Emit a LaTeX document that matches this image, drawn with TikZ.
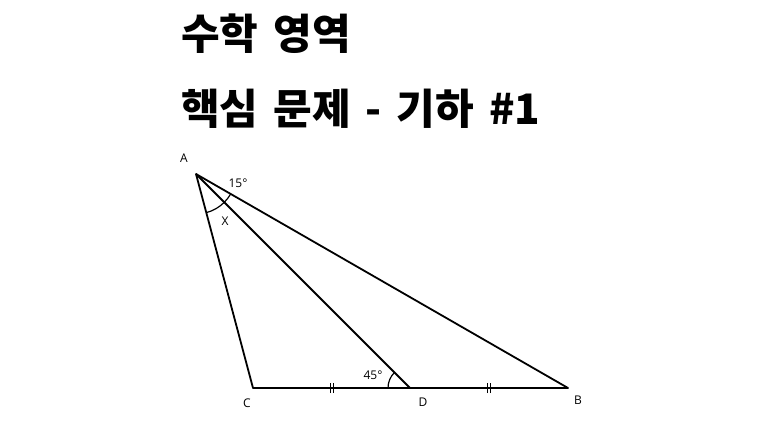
\documentclass[tikz,border=0pt]{standalone}
\usepackage{fontspec}
\setmainfont{Open Sans}
\newfontfamily\kofont{Noto Sans CJK KR}
\usetikzlibrary{angles,positioning,calc}
\newcommand\widespaces{\spaceskip=15pt\relax}

\tikzset{
  side/.style={line width=1.8pt},
  vlabel/.style={font=\fontsize{12}{14}\selectfont, inner sep=0pt},
  headline/.style={font=\kofont\bfseries\fontsize{42}{48}\selectfont\widespaces, anchor=west, inner sep=0pt},
  tick/.style={line width=1pt}
}

\begin{document}
\begin{tikzpicture}[x=1pt,y=1pt]
        \useasboundingbox[fill=white] (0,0) rectangle (768,432); % page frame
        \node[headline] (title) at (181,398) {수학 영역}; % first heading line
        \node[headline] (subtitle) at (181,323) {핵심 문제 - 기하 \#1}; % second heading line
        \coordinate (A) at (196,258);
        \coordinate (C) at (253,44);
        \coordinate (D) at (410,44);
        \coordinate (B) at (568,44);
        \draw[side, line join=round] (A) -- (C) -- (B) -- cycle; % the triangle
        \draw[side] (A) -- (D); % the cevian
        \pic[draw, line width=1.2pt, angle radius=40pt] {angle = C--A--D}; % angle x
        \pic[draw, line width=1.2pt, angle radius=40pt] {angle = D--A--B}; % 15 degrees
        \pic[draw, line width=1.2pt, angle radius=22pt] {angle = A--D--C}; % 45 degrees
        \coordinate (mCD) at ($(C)!0.5!(D)$);
        \coordinate (mDB) at ($(D)!0.5!(B)$);
        \foreach \m in {mCD,mDB} {
          \draw[tick] ([xshift=-1.5pt,yshift=-5pt]\m) -- ([xshift=-1.5pt,yshift=5pt]\m); % equal marks
          \draw[tick] ([xshift=1.5pt,yshift=-5pt]\m) -- ([xshift=1.5pt,yshift=5pt]\m);
        }
        \node[vlabel] (lA) at ([shift={(-12,16)}]A) {A};
        \node[vlabel] (lC) at ([shift={(-6,-15)}]C) {C};
        \node[vlabel] (lD) at ([shift={(13,-14)}]D) {D};
        \node[vlabel] (lB) at ([shift={(10,-12)}]B) {B};
        \node[vlabel] (l15) at ([shift={(42,-9)}]A) {15°};
        \node[vlabel] (lX) at ([shift={(29,-47)}]A) {X};
        \node[vlabel] (l45) at ([shift={(-37,13)}]D) {45°};
      \end{tikzpicture}
\end{document}
